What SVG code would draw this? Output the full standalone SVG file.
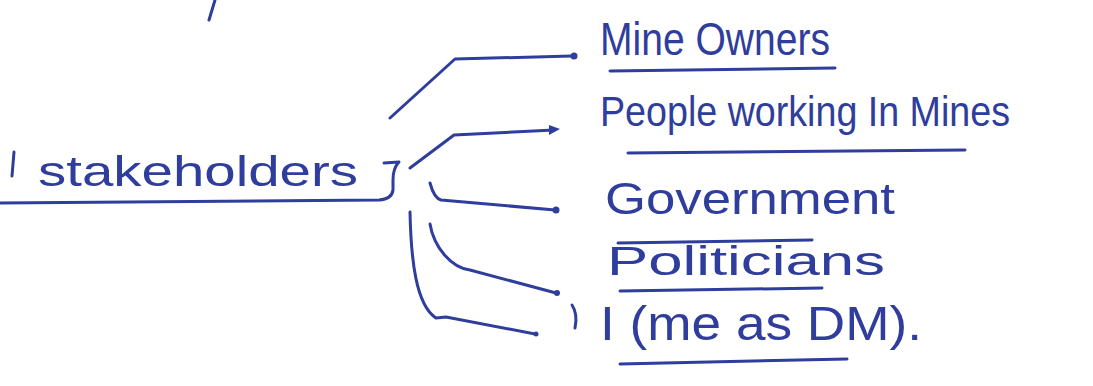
<svg xmlns="http://www.w3.org/2000/svg" width="1093" height="386" viewBox="0 0 1093 386">
<style>
.ink{fill:none;stroke:#2f3d9c;stroke-width:3;stroke-linecap:round;stroke-linejoin:round}
.t{font-family:"Liberation Sans",Arial,sans-serif;fill:#2f3d9c;font-weight:normal}
.dot{fill:#2f3d9c}
</style>
<rect width="1093" height="386" fill="#ffffff"/>
<path class="ink" d="M215,0 L209,20"/>
<g id="stakeholders">
<path class="ink" d="M14,152 L12,176"/>
<text class="t" x="38" y="186" font-size="42" textLength="320" lengthAdjust="spacingAndGlyphs">stakeholders</text>
<path class="ink" d="M384,163 L399,162 Q393,168 393,180 L393,190 Q392,199 379,200 L0,203"/>
</g>
<g id="mine-owners">
<text class="t" x="600" y="55" font-size="46" textLength="230" lengthAdjust="spacingAndGlyphs">Mine Owners</text>
<path class="ink" d="M610,71 L835,68"/>
</g>
<g id="people-working">
<text class="t" x="600" y="126" font-size="42" textLength="410" lengthAdjust="spacingAndGlyphs">People working In Mines</text>
<path class="ink" d="M628,153 L965,150"/>
</g>
<g id="government">
<text class="t" x="605" y="214" font-size="44" textLength="290" lengthAdjust="spacingAndGlyphs">Government</text>
<path class="ink" d="M618,243 L812,240"/>
</g>
<g id="politicians">
<text class="t" x="607" y="275" font-size="40" textLength="278" lengthAdjust="spacingAndGlyphs">Politicians</text>
<path class="ink" d="M620,291 L822,288"/>
</g>
<g id="me-as-dm">
<text class="t" x="600" y="340" font-size="48" textLength="322" lengthAdjust="spacingAndGlyphs">I (me as DM).</text>
<path class="ink" d="M620,364 L847,359"/>
</g>
<g id="connectors">
<path class="ink" d="M390,118 L455,59 L572,56"/>
<circle class="dot" cx="574" cy="56" r="3.5"/>
<path class="ink" d="M410,168 L454,135 L554,130"/>
<path class="dot" d="M549,125 L560,129 L549,135 Z"/>
<path class="ink" d="M430,183 Q434,198 441,200 L555,210"/>
<circle class="dot" cx="556" cy="210" r="3.5"/>
<path class="ink" d="M430,224 C434,248 452,268 470,270 L556,293"/>
<circle class="dot" cx="557" cy="293" r="3"/>
<path class="ink" d="M410,212 C411,260 416,305 436,318 L446,317 L535,334"/>
<circle class="dot" cx="536" cy="334" r="2.5"/>
<path class="ink" d="M572,305 Q578,314 575,328"/>
</g>
</svg>
